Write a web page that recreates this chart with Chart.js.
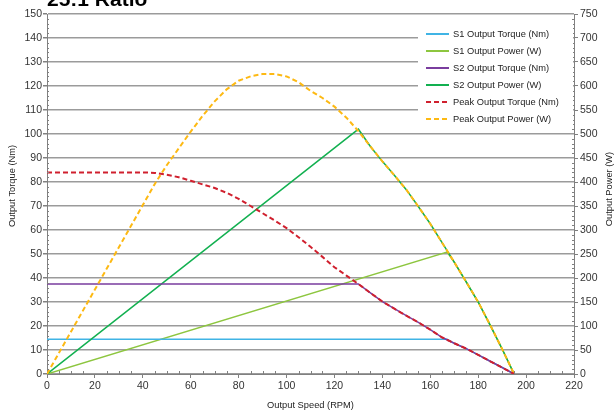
<!DOCTYPE html>
<html>
<head>
<meta charset="utf-8">
<script src="https://cdn.jsdelivr.net/npm/chart.js@4.4.1/dist/chart.umd.min.js"></script>
<style>
  html, body { margin: 0; padding: 0; background: #fff; }
</style>
</head>
<body>
<canvas id="chart" width="615" height="413"></canvas>
<script>
// chart text
const chartTitle = '25:1 Ratio';
const xTitle = 'Output Speed (RPM)';
const yTitle = 'Output Torque (Nm)';
const y1Title = 'Output Power (W)';

// peak curves (speed in RPM)
const peakSpeed = [0, 10, 20, 30, 40, 45, 50, 55, 60, 65, 70, 75, 80, 85, 90, 95, 100, 105, 110, 115, 120, 125, 130, 135, 140, 145, 150, 155, 160, 165, 170, 175, 180, 185, 190, 195];
const peakTorque = [84, 84, 84, 84, 84, 83.8, 83, 82, 80.5, 79, 77.5, 75.5, 73, 70, 67, 64, 60.8, 57, 53, 48.8, 44.5, 41, 37.5, 33.8, 30.2, 27.2, 24.3, 21.5, 18.5, 15.2, 12.8, 10.6, 8, 5.3, 2.7, 0];
const peakPower = [0, 88, 176, 264, 352, 396, 435, 470, 505, 538, 568, 593, 611, 620, 625, 625, 620, 608, 590, 575, 557, 534, 506, 474, 443, 414, 384, 349, 313, 273, 233, 192, 150, 102, 52, 0];

// S2 duty
const s2Speed = [0, 130, 135, 140, 145, 150, 155, 160, 165, 170, 175, 180, 185, 190, 195];
const s2Torque = [37.5, 37.5, 33.8, 30.2, 27.2, 24.3, 21.5, 18.5, 15.2, 12.8, 10.6, 8, 5.3, 2.7, 0];
const s2Power = [0, 510, 474, 443, 414, 384, 349, 313, 273, 233, 192, 150, 102, 52, 0];

// S1 duty
const s1Speed = [0, 167, 170, 175, 180, 185, 190, 195];
const s1Torque = [14.5, 14.5, 12.8, 10.6, 8, 5.3, 2.7, 0];
const s1Power = [0, 254, 233, 192, 150, 102, 52, 0];

const fontFamily = '"Liberation Sans", Arial, Helvetica, sans-serif';

function pts(xs, ys) {
    return xs.map((x, i) => ({ x: x, y: ys[i] }));
}

const datasets = [
    { label: 'S1 Output Torque (Nm)', data: pts(s1Speed, s1Torque), yAxisID: 'y', borderColor: '#40b4e5', borderWidth: 1.5, order: 2 },
    { label: 'S1 Output Power (W)', data: pts(s1Speed, s1Power), yAxisID: 'y1', borderColor: '#8dc63f', borderWidth: 1.5, order: 2 },
    { label: 'S2 Output Torque (Nm)', data: pts(s2Speed, s2Torque), yAxisID: 'y', borderColor: '#7a3d9e', borderWidth: 1.5, order: 1 },
    { label: 'S2 Output Power (W)', data: pts(s2Speed, s2Power), yAxisID: 'y1', borderColor: '#12b050', borderWidth: 1.5, order: 1 },
    { label: 'Peak Output Torque (Nm)', data: pts(peakSpeed, peakTorque), yAxisID: 'y', borderColor: '#d0202e', borderWidth: 2, borderDash: [5, 3], order: 0 },
    { label: 'Peak Output Power (W)', data: pts(peakSpeed, peakPower), yAxisID: 'y1', borderColor: '#fdb913', borderWidth: 2, borderDash: [5, 3], order: 0 },
];
datasets.forEach(d => {
    d.pointRadius = 0;
    d.fill = false;
    d.tension = 0;
});

// title, axis titles, minor ticks and the legend box inside the plot
const extras = {
    id: 'extras',
    afterDraw(chart) {
        const ctx = chart.ctx;
        const a = chart.chartArea;
        const sx = chart.scales.x, sy = chart.scales.y, sy1 = chart.scales.y1;

        ctx.save();
        ctx.strokeStyle = '#808080';
        ctx.lineWidth = 1;
        ctx.beginPath();
        for (let v = 5; v < 220; v += 5) {
            if (v % 20 === 0) continue;
            const px = Math.round(sx.getPixelForValue(v)) + 0.5;
            ctx.moveTo(px, a.bottom);
            ctx.lineTo(px, a.bottom - 3);
        }
        for (let v = 2; v < 150; v += 2) {
            if (v % 10 === 0) continue;
            const py = Math.round(sy.getPixelForValue(v)) + 0.5;
            ctx.moveTo(a.left, py);
            ctx.lineTo(a.left + 2, py);
        }
        for (let v = 10; v < 750; v += 10) {
            if (v % 50 === 0) continue;
            const py = Math.round(sy1.getPixelForValue(v)) + 0.5;
            ctx.moveTo(a.right, py);
            ctx.lineTo(a.right - 2, py);
        }
        ctx.stroke();

        // title, mostly cut off at the top like the original
        ctx.fillStyle = '#000';
        ctx.font = 'bold 21px ' + fontFamily;
        ctx.textAlign = 'left';
        ctx.textBaseline = 'alphabetic';
        ctx.fillText(chartTitle, 47, 6);

        // axis titles
        ctx.fillStyle = '#222';
        ctx.font = '9.3px ' + fontFamily;
        ctx.textAlign = 'center';
        ctx.textBaseline = 'middle';
        ctx.save();
        ctx.translate(12, 186);
        ctx.rotate(-Math.PI / 2);
        ctx.fillText(yTitle, 0, 0);
        ctx.restore();
        ctx.save();
        ctx.translate(609, 189);
        ctx.rotate(-Math.PI / 2);
        ctx.fillText(y1Title, 0, 0);
        ctx.restore();
        ctx.fillText(xTitle, (a.left + a.right) / 2, 405);

        // legend
        ctx.fillStyle = '#fff';
        ctx.fillRect(418, 22, a.right - 418 - 1, 104);
        ctx.font = '9.3px ' + fontFamily;
        ctx.textAlign = 'left';
        chart.data.datasets.forEach((d, i) => {
            const y = 34 + i * 17;
            ctx.strokeStyle = d.borderColor;
            ctx.lineWidth = 2;
            ctx.setLineDash(d.borderDash ? [5, 3] : []);
            ctx.beginPath();
            ctx.moveTo(426, y);
            ctx.lineTo(449, y);
            ctx.stroke();
            ctx.setLineDash([]);
            ctx.fillStyle = '#222';
            ctx.fillText(d.label, 453, y);
        });
        ctx.restore();
    }
};

const tickFont = { family: fontFamily, size: 10.5 };

const config = {
    type: 'line',
    data: { datasets: datasets },
    options: {
        responsive: false,
        animation: false,
        layout: { padding: { top: 14, left: 0, right: 0, bottom: 0 } },
        plugins: {
            legend: { display: false },
            tooltip: { enabled: false },
        },
        scales: {
            x: {
                type: 'linear',
                min: 0,
                max: 220,
                ticks: { stepSize: 20, color: '#333', font: tickFont, padding: 2, maxRotation: 0 },
                grid: { drawOnChartArea: false, drawTicks: true, tickLength: 4, color: '#808080' },
                border: { color: '#808080' },
                afterFit: s => { s.height = 39; },
            },
            y: {
                position: 'left',
                min: 0,
                max: 150,
                ticks: { stepSize: 10, color: '#333', font: tickFont, padding: 1 },
                grid: { color: '#9b9b9b', lineWidth: 1.5, tickLength: 4, tickColor: '#808080' },
                border: { color: '#808080' },
                afterFit: s => { s.width = 47; },
            },
            y1: {
                position: 'right',
                min: 0,
                max: 750,
                ticks: { stepSize: 50, color: '#333', font: tickFont, padding: 2 },
                grid: { drawOnChartArea: false, tickLength: 4, color: '#808080' },
                border: { color: '#808080' },
                afterFit: s => { s.width = 41; },
            },
        },
    },
    plugins: [extras],
};

const element = document.getElementById('chart');
const chart = new Chart(element, config);
</script>
</body>
</html>
